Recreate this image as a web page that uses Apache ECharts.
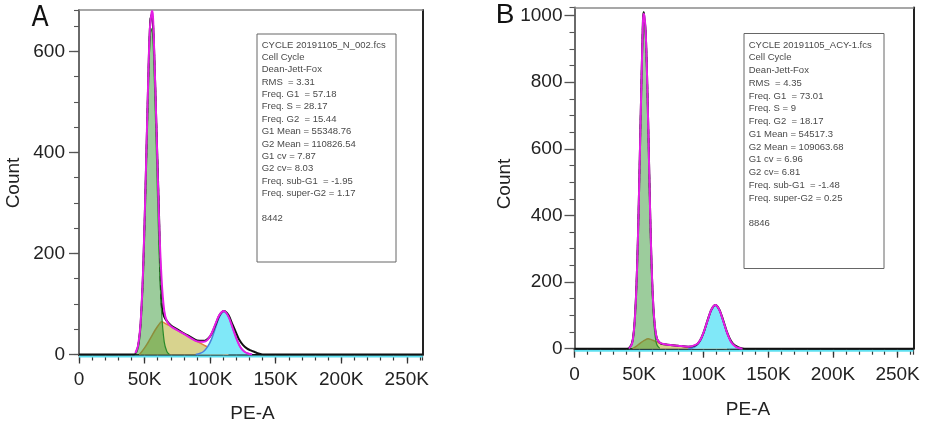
<!DOCTYPE html>
<html><head><meta charset="utf-8">
<script src="https://cdn.jsdelivr.net/npm/echarts@6/dist/echarts.min.js"></script>
<style>html,body{margin:0;padding:0;background:#fff}#c{width:926px;height:427px}</style>
</head><body><div id="c"></div>
<script>
// ---------- Panel A (x in K of PE-A, y = Count) ----------
const A_G1_X = [43,45,47,49,51,53,54,55,56,57,59,61,63,65,67,69];
const A_G1_Y = [3,17,60,165,343,541,613,645,636,585,403,210,84,25,6,0];
const A_S_X = [46,48,50,52,54,56,58,60,62,63,64,66,70,75,80,85,90,95,100,105,110,114];
const A_S_Y = [0,6,13,21,30,39,48,56,63,65,64,61,56,48,41,33,26,19,12,6,2,0];
const A_G2_X = [89,92,95,98,101,104,107,110.6,114,117,120,123,126,129,132];
const A_G2_Y = [0,2,6,15,30,52,74,85,75,54,32,15,6,2,0];
const A_FIT_X = [43,45,47,49,51,53,54,55,55.6,56.3,57,59,61,63,65,67,70,75,80,85,90,95,98,101,104,107,110.6,114,117,120,123,126,129,132];
const A_FIT_Y = [3,17,63,175,360,567,643,670,680,674,631,457,271,149,87,66,56,48,41,33,26,25,29,41,60,78,86,75,54,32,15,6,2,0];
const A_DATA_X = [0,42,45,47,49,51,53,54,55,56,57,59,61,62,63,64,66,70,75,80,85,90,95,100,104,107,110.6,114,117,120,122,125,128,131,134,137,140,262.144];
const A_DATA_Y = [0,0,15,60,170,355,560,640,672,668,625,455,280,170,100,82,70,58,50,42,35,28,27,36,58,77,86,78,60,42,30,19,12,8,5,2,0,0];
const A_BASE_X = [0,262.144];
const A_BASE_Y = [-4,-4];
const A_STATS = ["CYCLE 20191105_N_002.fcs","Cell Cycle","Dean-Jett-Fox","RMS  = 3.31","Freq. G1  = 57.18","Freq. S = 28.17","Freq. G2  = 15.44","G1 Mean = 55348.76","G2 Mean = 110826.54","G1 cv = 7.87","G2 cv= 8.03","Freq. sub-G1  = -1.95","Freq. super-G2 = 1.17","","8442"];
const A_YMAX = 682;

// ---------- Panel B ----------
const B_G1_X = [42,44,45,46,47,48,49,50,51,52,53,54,55,56,57,58,59,60,61,62,63,64,66];
const B_G1_Y = [1,10,23,52,103,186,309,468,645,811,932,975,932,811,645,468,309,186,103,52,23,10,1];
const B_S_X = [45,48,51,54,57,59,62,65,68,72,80,88,94,100,105,110,115,118];
const B_S_Y = [0,8,17,25,30,28,23,18,15,12,9,5,4,3,3,2,1,0];
const B_G2_X = [88,91,94,97,100,103,106,109,112,115,118,121,124,127,130];
const B_G2_Y = [0,2,8,21,47,83,116,130,116,83,47,21,8,2,0];
const B_FIT_X = [42,44,45,46,47,48,49,50,51,52,53,53.5,54,55,56,57,58,59,60,61,62,63,64,66,68,72,80,88,94,97,100,103,106,109,112,115,118,121,124,127,130];
const B_FIT_Y = [1,10,23,55,108,194,320,482,662,831,985,1005,1000,959,839,675,498,337,213,128,75,44,29,18,15,12,9,6,12,24,50,85,118,131,117,84,48,21,8,2,0];
const B_DATA_X = [0,41,44,45,46,47,48,49,50,51,52,53,53.5,54,55,56,57,58,59,60,61,62,63,64,66,68,72,80,88,94,97,100,103,106,109,112,115,118,121,124,127,130,133,262.144];
const B_DATA_Y = [0,0,12,25,55,110,195,320,480,660,835,990,1010,995,955,840,680,500,335,210,125,72,42,28,18,14,12,9,6,11,24,50,86,118,131,118,86,50,24,10,4,1,0,0];
const B_BASE_X = [0,262.144];
const B_BASE_Y = [-6,-6];
const B_STATS = ["CYCLE 20191105_ACY-1.fcs","Cell Cycle","Dean-Jett-Fox","RMS  = 4.35","Freq. G1  = 73.01","Freq. S = 9","Freq. G2  = 18.17","G1 Mean = 54517.3","G2 Mean = 109063.68","G1 cv = 6.96","G2 cv= 6.81","Freq. sub-G1  = -1.48","Freq. super-G2 = 0.25","","8846"];
const B_YMAX = 1024;

const X_MAX = 262.144;
const X_TICK_STEP = 50;   // labels 0, 50K ... 250K
const Y_TICK_STEP = 200;
const G1_RANGE = [44, 64]; // where the raw histogram is drawn dashed over the G1 fill

const FONT = '"Liberation Sans", Arial, sans-serif';
const zip = (xs, ys) => xs.map((x, i) => [x, ys[i]]);

const chart = echarts.init(document.getElementById('c'), null, {renderer: 'canvas'});

function xAxes(gi, margin) {
  return [
    {type:'value', gridIndex:gi, position:'bottom', min:0, max:X_MAX, interval:X_TICK_STEP,
     axisLine:{show:true, onZero:false, lineStyle:{color:'#111', width:2}},
     axisTick:{show:true, length:9, lineStyle:{color:'#333', width:1.3}},
     splitLine:{show:false},
     axisLabel:{margin:margin, fontSize:19, color:'#222', fontFamily:FONT, showMaxLabel:false,
       formatter: v => v === 0 ? '0' : Math.round(v) + 'K'}},
    {type:'value', gridIndex:gi, position:'bottom', min:0, max:X_MAX, interval:10,
     axisLine:{show:false, onZero:false}, axisTick:{show:true, length:6, lineStyle:{color:'#333', width:1.2}},
     splitLine:{show:false}, axisLabel:{show:false}},
    {type:'value', gridIndex:gi, position:'top', min:0, max:X_MAX,
     axisLine:{show:true, onZero:false, lineStyle:{color:'#8a8a8a', width:1.5}},
     axisTick:{show:false}, splitLine:{show:false}, axisLabel:{show:false}}
  ];
}
function yAxes(gi, ymax, margin) {
  return [
    {type:'value', gridIndex:gi, position:'left', min:0, max:ymax, interval:Y_TICK_STEP,
     axisLine:{show:true, onZero:false, lineStyle:{color:'#6a6a6a', width:2}},
     axisTick:{show:true, length:10, lineStyle:{color:'#555', width:1.3}},
     splitLine:{show:false},
     axisLabel:{margin:margin, fontSize:19, color:'#222', fontFamily:FONT, showMaxLabel:false,
       formatter: v => String(Math.round(v))}},
    {type:'value', gridIndex:gi, position:'left', min:0, max:ymax, interval:50,
     axisLine:{show:false, onZero:false}, axisTick:{show:true, length:5, lineStyle:{color:'#555', width:1.1}},
     splitLine:{show:false}, axisLabel:{show:false}},
    {type:'value', gridIndex:gi, position:'right', min:0, max:ymax,
     axisLine:{show:true, onZero:false, lineStyle:{color:'#222', width:2}},
     axisTick:{show:false}, splitLine:{show:false}, axisLabel:{show:false}}
  ];
}

function panelSeries(ax, P) {
  const base = {type:'line', xAxisIndex:ax, yAxisIndex:ax, showSymbol:false, symbol:'none', smooth:0.3, animation:false, silent:true};
  const peak = zip(P.dx, P.dy).filter(p => p[0] >= G1_RANGE[0] && p[0] <= G1_RANGE[1]);
  return [
    Object.assign({}, base, {name:'S', data:zip(P.sx, P.sy), z:2,
      lineStyle:{color:'#e0803c', width:1.5}, areaStyle:{color:'#d8d38e', opacity:1}}),
    Object.assign({}, base, {name:'G2', data:zip(P.g2x, P.g2y), z:3,
      lineStyle:{color:'#4a80dc', width:1.5}, areaStyle:{color:'#80e8f8', opacity:1}}),
    Object.assign({}, base, {name:'data', data:zip(P.dx, P.dy), z:4,
      lineStyle:{color:'#111', width:2}}),
    Object.assign({}, base, {name:'G1', data:zip(P.g1x, P.g1y), z:5,
      lineStyle:{color:'#2a8a2a', width:1.2}, areaStyle:{color:'#3a9a3a', opacity:0.5}}),
    Object.assign({}, base, {name:'dataPeak', data:peak, z:6,
      lineStyle:{color:'#1a3a1a', width:1.6, type:[5,4]}}),
    Object.assign({}, base, {name:'fit', data:zip(P.fx, P.fy), z:7,
      lineStyle:{color:'#e41ee4', width:2}}),
    Object.assign({}, base, {name:'base', data:zip(P.bx, P.by), z:1, smooth:false, clip:false,
      lineStyle:{color:'#5fe0f0', width:2}})
  ];
}

function statBox(x, y, w, h, lines, lh) {
  return [
    {type:'rect', shape:{x:x, y:y, width:w, height:h}, style:{fill:'#fff', stroke:'#666', lineWidth:1}, z:100},
    {type:'text', x:x + 4.7, y:45 - lh / 2, z:101,
     style:{text:lines.join('\n'), fontSize:9.5, fontFamily:FONT, fill:'#4a4a4a', lineHeight:lh, verticalAlign:'top', align:'left'}}
  ];
}

const option = {
  backgroundColor:'#fff',
  animation:false,
  grid:[
    {left:79, top:10, right:503.3, bottom:72.5},
    {left:574.5, top:7.5, right:12.7, bottom:78.3}
  ],
  xAxis: xAxes(0, 16).concat(xAxes(1, 17)),
  yAxis: yAxes(0, A_YMAX, 14).concat(yAxes(1, B_YMAX, 12)),
  series: panelSeries(0, {g1x:A_G1_X, g1y:A_G1_Y, sx:A_S_X, sy:A_S_Y, g2x:A_G2_X, g2y:A_G2_Y, fx:A_FIT_X, fy:A_FIT_Y, dx:A_DATA_X, dy:A_DATA_Y, bx:A_BASE_X, by:A_BASE_Y})
    .concat(panelSeries(3, {g1x:B_G1_X, g1y:B_G1_Y, sx:B_S_X, sy:B_S_Y, g2x:B_G2_X, g2y:B_G2_Y, fx:B_FIT_X, fy:B_FIT_Y, dx:B_DATA_X, dy:B_DATA_Y, bx:B_BASE_X, by:B_BASE_Y})),
  graphic: [
    {type:'text', x:40, y:19, style:{text:'A', fontSize:28, fontFamily:'"Liberation Sans Narrow", "DejaVu Sans Condensed", sans-serif', fill:'#111', align:'center', verticalAlign:'middle'}},
    {type:'text', x:505, y:15, style:{text:'B', fontSize:28, fontFamily:FONT, fill:'#111', align:'center', verticalAlign:'middle'}},
    {type:'text', x:14, y:183, rotation:Math.PI/2, style:{text:'Count', fontSize:19, fontFamily:FONT, fill:'#222', align:'center', verticalAlign:'middle'}},
    {type:'text', x:505, y:184, rotation:Math.PI/2, style:{text:'Count', fontSize:19, fontFamily:FONT, fill:'#222', align:'center', verticalAlign:'middle'}},
    {type:'text', x:252.5, y:414, style:{text:'PE-A', fontSize:19, fontFamily:FONT, fill:'#222', align:'center', verticalAlign:'middle'}},
    {type:'text', x:748, y:410, style:{text:'PE-A', fontSize:19, fontFamily:FONT, fill:'#222', align:'center', verticalAlign:'middle'}}
  ].concat(statBox(257, 34, 139, 228, A_STATS, 12.36))
   .concat(statBox(744, 33.5, 140, 235, B_STATS, 12.75))
};
chart.setOption(option);
</script></body></html>
